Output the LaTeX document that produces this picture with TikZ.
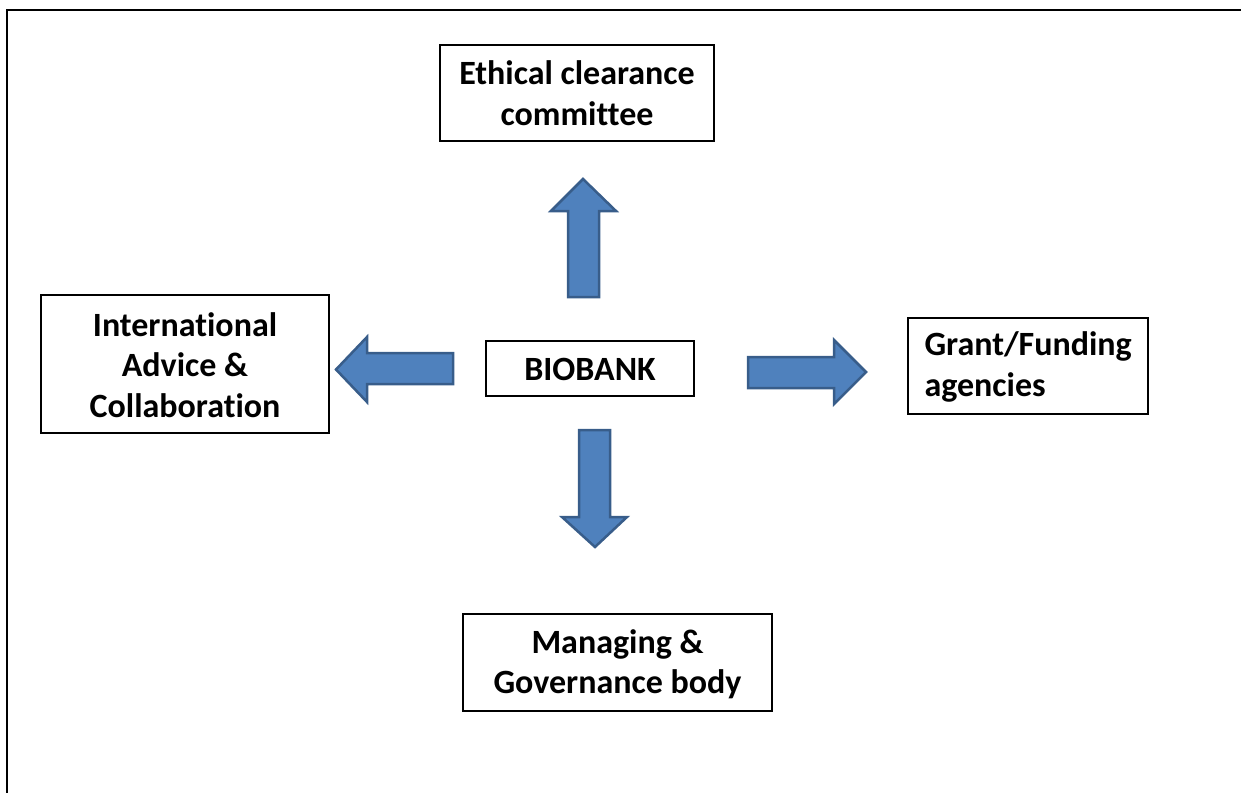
\documentclass[tikz,border=0pt]{standalone}
\usepackage{fontspec}
\setmainfont{Carlito}[Ligatures=NoCommon]
\begin{document}
\begin{tikzpicture}[x=1pt,y=-1pt,
  box/.style={draw=black,line width=1.4pt,fill=white,inner sep=0pt},
  lbl/.style={font=\bfseries\fontsize{34}{40.5}\selectfont,align=center},
  blk/.style={fill={rgb,255:red,79;green,129;blue,189},draw={rgb,255:red,56;green,93;blue,138},line width=2.5pt,line join=miter}]
\useasboundingbox (0,0) rectangle (1241,792);
\draw[line width=2pt] (1250,10.5) -- (7,10.5) -- (7,800);
% boxes
\draw[box] (440,45) rectangle (714,141);
\node[lbl] (eth) at (577,93) {Ethical clearance\\committee};
\draw[box] (41,295) rectangle (329,433);
\node[lbl] (int) at (185,365) {International\\Advice \&\\Collaboration};
\draw[box] (486,341) rectangle (694,396);
\node[lbl] (bio) at (590,369) {BIOBANK};
\draw[box] (908,318) rectangle (1148,414);
\node[lbl,align=left,anchor=west] (gra) at (921,367) {Grant/Funding\\agencies};
\draw[box] (463,614) rectangle (772,711);
\node[lbl] (man) at (617.5,664) {Managing \&\\Governance body};
% block arrows
\draw[blk] (568,297) -- (568,211) -- (551,211) -- (583,179) -- (616,211) -- (599,211) -- (599,297) -- cycle;
\draw[blk] (453,353) -- (367,353) -- (367,337) -- (336,369.5) -- (367,402) -- (367,384) -- (453,384) -- cycle;
\draw[blk] (748,357) -- (834,357) -- (834,340) -- (866,372) -- (834,404) -- (834,388) -- (748,388) -- cycle;
\draw[blk] (579,430) -- (610,430) -- (610,517) -- (627,517) -- (595,547) -- (562,517) -- (579,517) -- cycle;
\end{tikzpicture}
\end{document}
